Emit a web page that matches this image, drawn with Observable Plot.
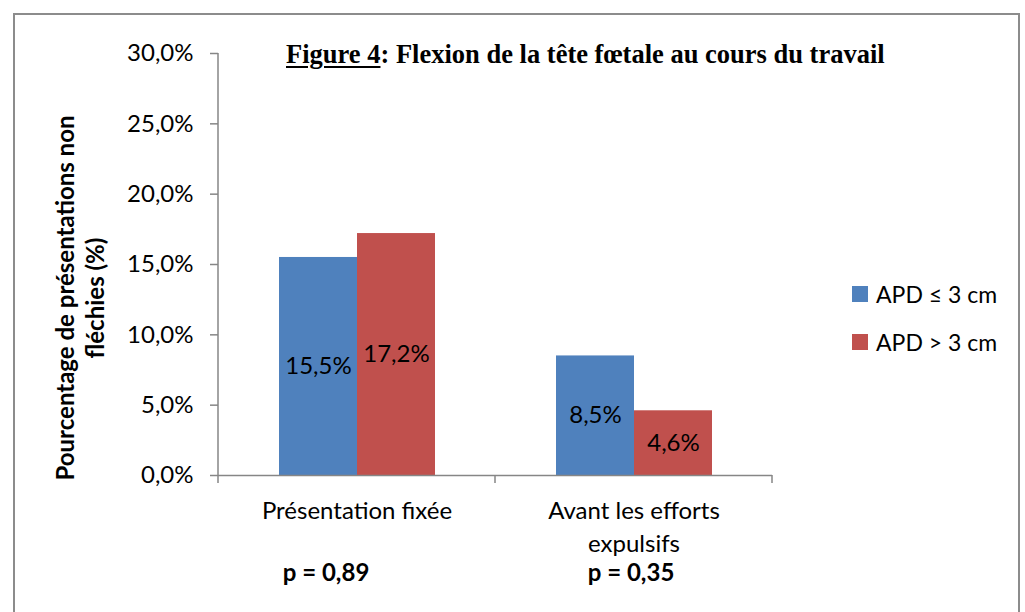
<!DOCTYPE html>
<html>
<head>
<meta charset="utf-8">
<script src="https://cdn.jsdelivr.net/npm/d3@7"></script>
<script src="https://cdn.jsdelivr.net/npm/@observablehq/plot@0.6"></script>
<style>
  body { margin: 0; background: #fff; }
  #wrap { position: relative; width: 1025px; height: 612px; overflow: hidden; font-family: Lato, "Open Sans", sans-serif; color: #000; }
  #chart { position: absolute; left: 0; top: 0; }
  #border { position: absolute; left: 13px; top: 13px; width: 1007px; height: 640px; border: 2px solid #8c8c8c; box-sizing: border-box; }
  #title { position: absolute; left: 286px; top: 41px; font-family: "Liberation Serif", "Times New Roman", serif; font-weight: bold; font-size: 26.5px; line-height: 1; white-space: nowrap; }
  #title u { text-decoration-thickness: 2px; text-underline-offset: 3px; }
  #ylabel { position: absolute; left: 80px; top: 298px; transform: translate(-50%, -50%) rotate(-90deg); font-weight: bold; font-size: 24px; line-height: 30px; text-align: center; white-space: nowrap; }
  .leg { position: absolute; left: 852px; display: flex; align-items: center; font-size: 23px; white-space: nowrap; }
  .leg span.sw { width: 16px; height: 16px; display: inline-block; margin-right: 8px; }
</style>
</head>
<body>
<div id="wrap">
  <div id="chart"></div>
  <div id="border"></div>
  <div id="title"></div>
  <div id="ylabel"></div>
  <div id="legend"></div>
</div>
<script>
// ---- data ----
const categories = ["Présentation fixée", "Avant les efforts\nexpulsifs"];
const series = ["APD ≤ 3 cm", "APD > 3 cm"];
const valuesLow = [15.5, 8.5];   // APD ≤ 3 cm
const valuesHigh = [17.2, 4.6];  // APD > 3 cm
const pValues = ["p = 0,89", "p = 0,35"];
const yTicks = [0, 5, 10, 15, 20, 25, 30];
const colors = ["#4F81BD", "#C0504D"];
const titleBold = "Figure 4";
const titleRest = ": Flexion de la tête fœtale au cours du travail";
const yLabelLines = ["Pourcentage de présentations non", "fléchies (%)"];

// ---- table ----
const rows = [];
categories.forEach((c, i) => {
  rows.push({category: c, series: series[0], value: valuesLow[i]});
  rows.push({category: c, series: series[1], value: valuesHigh[i]});
});
const pRows = categories.map((c, i) => ({category: c, text: pValues[i], i}));

const fmt = v => v.toFixed(1).replace(".", ",") + "%";
const axisGray = "#868686";
const font = "Lato, 'Open Sans', sans-serif";

const chart = Plot.plot({
  width: 1025,
  height: 612,
  marginLeft: 218,
  marginRight: 253,
  marginTop: 53,
  marginBottom: 137,
  style: {fontFamily: font, fontSize: "24px", color: "#000", background: "transparent"},
  fx: {domain: categories, padding: 0, axis: null, label: null},
  x: {domain: series, paddingOuter: 0.77, paddingInner: 0, axis: null, label: null},
  y: {domain: [0, 30], axis: null, label: null},
  color: {domain: series, range: colors},
  marks: [
    Plot.barY(rows, {fx: "category", x: "series", y: "value", fill: "series"}),
    Plot.text(rows, {fx: "category", x: "series", y: d => d.value / 2, text: d => fmt(d.value), fontSize: 24, fill: "#000"}),
    Plot.ruleY([0], {stroke: axisGray, strokeWidth: 1.5}),
    Plot.axisY({ticks: yTicks, tickFormat: fmt, tickSize: 8, tickPadding: 17, stroke: axisGray, strokeWidth: 1.5, fill: "#000", fontSize: 24, label: null}),
    Plot.text(categories, {fx: d => d, text: d => d, frameAnchor: "bottom", lineAnchor: "top", dy: 20, lineHeight: 1.38, fontSize: 24, fill: "#000"}),
    Plot.text(pRows.filter(d => d.i === 0), {fx: "category", text: "text", frameAnchor: "bottom", dy: 105, dx: -31, fontSize: 24, fontWeight: "bold", fill: "#000"}),
    Plot.text(pRows.filter(d => d.i === 1), {fx: "category", text: "text", frameAnchor: "bottom", dy: 105, dx: -3, fontSize: 24, fontWeight: "bold", fill: "#000"})
  ]
});
document.getElementById("chart").appendChild(chart);

// axis line and category boundary ticks, from the plot's scales
const svg = d3.select(chart.tagName.toLowerCase() === "svg" ? chart : chart.querySelector("svg"));
const fxS = chart.scale("fx"), yS = chart.scale("y");
const y0 = yS.apply(0), yTop = yS.apply(30);
const starts = categories.map(c => fxS.apply(c));
const bw = fxS.bandwidth;
const bounds = [...starts, starts[starts.length - 1] + bw];
const g = svg.append("g").attr("stroke", axisGray).attr("stroke-width", 1.5);
g.append("line").attr("x1", bounds[0]).attr("x2", bounds[0]).attr("y1", yTop).attr("y2", y0 + 8);
bounds.slice(1).forEach(b => g.append("line").attr("x1", b).attr("x2", b).attr("y1", y0).attr("y2", y0 + 8));

// title
const t = document.getElementById("title");
const u = document.createElement("u"); u.textContent = titleBold; t.appendChild(u);
t.appendChild(document.createTextNode(titleRest));
// y label
const yl = document.getElementById("ylabel");
yLabelLines.forEach(l => { const d = document.createElement("div"); d.textContent = l; yl.appendChild(d); });
// legend
const legTops = [286, 334];
series.forEach((s, i) => {
  const d = document.createElement("div");
  d.className = "leg";
  d.style.top = (legTops[i] - 6) + "px";
  d.style.height = "28px";
  const sw = document.createElement("span"); sw.className = "sw"; sw.style.background = colors[i];
  d.appendChild(sw); d.appendChild(document.createTextNode(s));
  document.getElementById("legend").appendChild(d);
});
</script>
</body>
</html>
